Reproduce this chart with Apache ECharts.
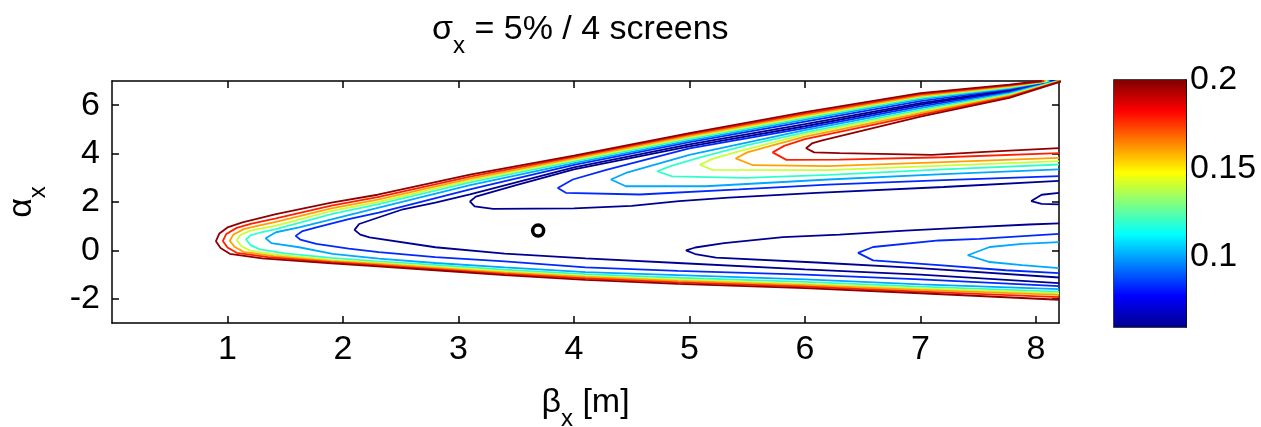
<!DOCTYPE html>
<html><head><meta charset="utf-8">
<script src="https://cdn.jsdelivr.net/npm/echarts@6/dist/echarts.min.js"></script>
<style>html,body{margin:0;padding:0;background:#fff}#c{width:1261px;height:427px}</style>
</head><body><div id="c"></div>
<script>
// ---- tick labels / ranges ----
const xTicks = [1, 2, 3, 4, 5, 6, 7, 8];
const yTicks = [-2, 0, 2, 4, 6];
const cbTicks = [0.1, 0.15, 0.2];
const cbMin = 0.06, cbMax = 0.2;
const xRange = [0, 8.2], yRange = [-3, 7];
// contour levels (low -> high) and their colours
const levels = [0.07, 0.085, 0.1, 0.12, 0.14, 0.16, 0.18, 0.2];
const levelColors = ['#000090', '#0028ff', '#00a8ff', '#30ffcc', '#c8ff38', '#ffa000', '#ff2000', '#900000'];
// optimum marker
const optimum = [[3.69, 0.82]];

// ---- outer "V" contours: top edge -> apex -> right edge ----
const ovNavy = [[8.14,7.0],[7.77,6.62],[7.0,6.09],[6.0,5.22],[5.0,4.38],[4.0,3.43],[3.1,2.32],[2.8,1.97],[2.52,1.70],[2.3,1.35],[2.14,1.09],[2.1,0.85],[2.15,0.65],[2.23,0.54],[2.8,0.13],[3.4,-0.13],[4.1,-0.33],[4.9,-0.52],[6.0,-0.78],[7.0,-1.00],[8.2,-1.35]];
const ovBlue = [[8.13,7.0],[7.77,6.66],[7.0,6.17],[6.0,5.32],[5.0,4.47],[4.0,3.53],[3.1,2.52],[2.31,1.56],[2.05,1.29],[1.77,0.95],[1.65,0.8],[1.59,0.6],[1.63,0.45],[1.77,0.27],[2.05,0.07],[2.31,-0.07],[2.8,-0.28],[3.4,-0.45],[4.1,-0.70],[4.9,-0.85],[6.0,-1.00],[7.0,-1.20],[8.2,-1.48]];
const ovAzure = [[8.12,7.0],[7.77,6.70],[7.0,6.24],[6.0,5.40],[5.0,4.54],[4.0,3.61],[3.1,2.70],[2.31,1.77],[1.91,1.29],[1.62,0.95],[1.42,0.75],[1.33,0.5],[1.38,0.3],[1.62,0.13],[1.91,-0.14],[2.31,-0.34],[2.8,-0.52],[3.4,-0.70],[4.1,-0.90],[4.9,-1.02],[6.0,-1.20],[7.0,-1.40],[8.2,-1.60]];
const ovGreen = [[8.11,7.0],[7.77,6.73],[7.0,6.30],[6.0,5.47],[5.0,4.61],[4.0,3.68],[3.1,2.81],[2.3,1.90],[1.9,1.50],[1.42,0.88],[1.3,0.76],[1.2,0.62],[1.16,0.45],[1.2,0.22],[1.28,0.04],[1.5,-0.12],[1.9,-0.31],[2.3,-0.45],[2.8,-0.60],[3.4,-0.80],[4.1,-0.98],[4.9,-1.13],[6.0,-1.30],[7.0,-1.50],[8.2,-1.70]];
const ovYellow = [[8.10,7.0],[7.77,6.76],[7.0,6.35],[6.0,5.53],[5.0,4.67],[4.0,3.74],[3.1,2.89],[2.3,2.00],[1.9,1.63],[1.42,1.02],[1.2,0.82],[1.11,0.63],[1.08,0.42],[1.12,0.18],[1.2,-0.02],[1.45,-0.19],[1.9,-0.39],[2.3,-0.51],[2.8,-0.67],[3.4,-0.86],[4.1,-1.05],[4.9,-1.20],[6.0,-1.38],[7.0,-1.57],[8.2,-1.77]];
const ovOrange = [[8.08,7.0],[7.77,6.79],[7.0,6.40],[6.0,5.59],[5.0,4.73],[4.0,3.80],[3.1,2.97],[2.3,2.10],[1.9,1.74],[1.42,1.18],[1.25,1.0],[1.14,0.88],[1.05,0.65],[1.02,0.40],[1.06,0.15],[1.14,-0.06],[1.4,-0.24],[1.9,-0.44],[2.3,-0.56],[2.8,-0.72],[3.4,-0.92],[4.1,-1.10],[4.9,-1.26],[6.0,-1.44],[7.0,-1.63],[8.2,-1.84]];
const ovRed = [[8.07,7.0],[7.77,6.82],[7.0,6.45],[6.0,5.65],[5.0,4.79],[4.0,3.86],[3.1,3.05],[2.3,2.20],[1.9,1.85],[1.42,1.32],[1.2,1.1],[1.08,0.93],[0.99,0.68],[0.96,0.39],[1.0,0.12],[1.08,-0.1],[1.35,-0.28],[1.9,-0.49],[2.3,-0.61],[2.8,-0.77],[3.4,-0.97],[4.1,-1.16],[4.9,-1.32],[6.0,-1.50],[7.0,-1.70],[8.2,-1.93]];
const ovDarkred = [[8.05,7.0],[7.77,6.85],[7.0,6.50],[6.0,5.71],[5.0,4.85],[4.0,3.92],[3.1,3.13],[2.3,2.30],[1.9,1.97],[1.42,1.50],[1.13,1.16],[1.0,0.95],[0.93,0.7],[0.90,0.38],[0.94,0.1],[1.02,-0.14],[1.3,-0.33],[1.9,-0.54],[2.3,-0.66],[2.8,-0.82],[3.4,-1.02],[4.1,-1.22],[4.9,-1.38],[6.0,-1.56],[7.0,-1.77],[8.2,-2.04]];

// ---- upper inner contours: right edge -> apex -> along the upper valley -> top edge ----
const uiNavy = [[8.2,2.87],[7.2,2.62],[6.1,2.38],[5.34,2.18],[4.91,2.04],[4.5,1.84],[4.0,1.74],[3.3,1.72],[3.14,1.82],[3.1,2.02],[3.15,2.22],[3.5,2.70],[4.0,3.35],[5.0,4.30],[6.0,5.13],[7.0,6.02],[7.77,6.58],[8.16,7.0]];
const uiBlue = [[8.2,3.07],[7.2,2.90],[6.2,2.72],[5.43,2.52],[4.57,2.31],[3.93,2.38],[3.86,2.58],[3.99,2.93],[4.28,3.33],[5.0,4.22],[6.0,5.05],[7.0,5.95],[7.77,6.54],[8.17,7.0]];
const uiAzure = [[8.2,3.35],[7.2,3.15],[6.2,2.93],[5.14,2.65],[4.45,2.65],[4.32,2.93],[4.45,3.2],[4.74,3.6],[5.0,3.95],[6.0,4.97],[7.0,5.88],[7.77,6.50],[8.18,7.0]];
const uiGreen = [[8.2,3.55],[7.2,3.35],[6.21,3.12],[5.49,3.0],[4.85,3.06],[4.72,3.27],[4.85,3.5],[5.1,3.85],[5.5,4.35],[6.0,4.88],[7.0,5.81],[7.77,6.46],[8.19,7.0]];
const uiYellow = [[8.2,3.69],[7.2,3.5],[6.2,3.32],[5.2,3.33],[5.09,3.54],[5.2,3.78],[5.45,4.12],[6.0,4.79],[7.0,5.74],[7.77,6.42],[8.2,7.0]];
const uiOrange = [[8.2,3.82],[7.2,3.65],[6.2,3.48],[5.55,3.52],[5.40,3.8],[5.5,4.05],[5.75,4.38],[6.0,4.70],[7.0,5.67],[7.77,6.38],[8.21,7.0]];
const uiRed = [[8.2,4.02],[7.2,3.85],[6.3,3.75],[5.84,3.74],[5.72,4.05],[5.82,4.32],[6.0,4.60],[7.0,5.60],[7.77,6.34],[8.22,7.0]];
const uiDarkred = [[8.2,4.23],[7.6,4.08],[7.1,3.95],[6.3,4.02],[6.08,4.05],[6.01,4.22],[6.06,4.42],[6.15,4.55],[7.0,5.53],[7.77,6.30],[8.23,7.0]];

// ---- small closed-to-the-right contours in the lower right ----
const vNavy = [[8.2,1.12],[7.94,1.07],[7.42,0.95],[6.87,0.82],[6.3,0.65],[5.81,0.55],[5.3,0.3],[5.05,0.12],[4.97,0.0],[5.05,-0.15],[5.23,-0.30],[6.1,-0.50],[6.96,-0.72],[8.2,-1.12]];
const vBlue = [[8.2,0.68],[7.51,0.48],[7.16,0.41],[6.59,0.14],[6.46,-0.1],[6.59,-0.41],[7.16,-0.61],[7.74,-0.82],[8.2,-0.94]];
const vAzure = [[8.2,0.34],[7.88,0.27],[7.6,0.14],[7.41,-0.2],[7.6,-0.48],[7.88,-0.61],[8.2,-0.73]];
const vSmallNavy = [[8.2,2.38],[8.05,2.3],[7.96,2.04],[8.05,1.92],[8.2,1.9]];

const ovLines = [ovNavy, ovBlue, ovAzure, ovGreen, ovYellow, ovOrange, ovRed, ovDarkred];
const uiLines = [uiNavy, uiBlue, uiAzure, uiGreen, uiYellow, uiOrange, uiRed, uiDarkred];
const extraLines = [[vNavy, 0], [vBlue, 1], [vAzure, 2], [vSmallNavy, 0]];

const FONT = "'Liberation Sans', Arial, sans-serif";
const FS = 34;
const richTxt = {
  b: { fontSize: FS, fontFamily: FONT, fontWeight: 'normal', color: '#000', lineHeight: 56, verticalAlign: 'middle' },
  s: { fontSize: 24, fontFamily: FONT, fontWeight: 'normal', color: '#000', lineHeight: 56, verticalAlign: 'bottom' }
};

const series = [];
function addLine(data, k) {
  series.push({
    type: 'line', data: data, xAxisIndex: 0, yAxisIndex: 0,
    showSymbol: false, symbol: 'none', smooth: false, clip: true,
    lineStyle: { color: levelColors[k], width: 1.8 },
    silent: true, z: 2 + k * 0.01
  });
}
for (let k = 0; k < levels.length; k++) { addLine(ovLines[k], k); addLine(uiLines[k], k); }
extraLines.forEach(e => addLine(e[0], e[1]));
series.push({
  type: 'scatter', data: optimum, xAxisIndex: 0, yAxisIndex: 0,
  symbol: 'circle', symbolSize: 11, silent: true,
  itemStyle: { color: '#fff', borderColor: '#000', borderWidth: 3.5, opacity: 1 }, z: 5
});
// colour bar: transparent base up to cbMin, gradient from cbMin to cbMax
series.push({ type: 'bar', xAxisIndex: 2, yAxisIndex: 2, stack: 'cb', data: [cbMin], barWidth: '100%',
  itemStyle: { color: 'rgba(0,0,0,0)' }, silent: true });
series.push({ type: 'bar', xAxisIndex: 2, yAxisIndex: 2, stack: 'cb', data: [+(cbMax - cbMin).toFixed(4)], barWidth: '100%',
  silent: true,
  itemStyle: { color: new echarts.graphic.LinearGradient(0, 1, 0, 0, [
    { offset: 0, color: '#00008f' }, { offset: 0.125, color: '#0000ff' },
    { offset: 0.375, color: '#00ffff' }, { offset: 0.625, color: '#ffff00' },
    { offset: 0.875, color: '#ff0000' }, { offset: 1, color: '#800000' }]) } });

const axLine = { show: true, onZero: false, lineStyle: { color: '#000', width: 1.5 } };
const tickStyle = { lineStyle: { color: '#000', width: 1.5 } };

const option = {
  animation: false,
  backgroundColor: '#fff',
  title: {
    text: '{b|σ}{s|x}{b| = 5% / 4 screens}',
    left: 427, top: -3,
    textStyle: { rich: richTxt, fontWeight: 'normal' }
  },
  grid: [
    { left: 112, top: 81, width: 947, height: 242, show: false, outerBoundsMode: 'none', containLabel: false },
    { left: 1114, top: 80, width: 72, height: 247, show: true, borderColor: '#000', borderWidth: 1.5, outerBoundsMode: 'none', containLabel: false }
  ],
  xAxis: [
    { type: 'value', gridIndex: 0, min: xRange[0], max: xRange[1], position: 'bottom',
      axisLine: axLine, splitLine: { show: false },
      axisTick: Object.assign({ inside: true, length: 7, customValues: xTicks }, tickStyle),
      axisLabel: { customValues: xTicks, fontSize: FS, fontFamily: FONT, color: '#000', margin: 10 },
      name: '{b|β}{s|x}{b| [m]}', nameLocation: 'middle', nameGap: 52,
      nameTextStyle: { rich: richTxt } },
    { type: 'value', gridIndex: 0, min: xRange[0], max: xRange[1], position: 'top',
      axisLine: axLine, splitLine: { show: false },
      axisTick: Object.assign({ inside: true, length: 7, customValues: xTicks }, tickStyle),
      axisLabel: { show: false } },
    { type: 'category', gridIndex: 1, data: ['cb'], show: false }
  ],
  yAxis: [
    { type: 'value', gridIndex: 0, min: yRange[0], max: yRange[1], position: 'left',
      axisLine: axLine, splitLine: { show: false },
      axisTick: Object.assign({ inside: true, length: 7, customValues: yTicks }, tickStyle),
      axisLabel: { customValues: yTicks, fontSize: FS, fontFamily: FONT, color: '#000', margin: 12 },
      name: '{b|α}{s|x}', nameLocation: 'middle', nameRotate: 90, nameGap: 62,
      nameTextStyle: { rich: richTxt } },
    { type: 'value', gridIndex: 0, min: yRange[0], max: yRange[1], position: 'right',
      axisLine: axLine, splitLine: { show: false },
      axisTick: Object.assign({ inside: true, length: 7, customValues: yTicks }, tickStyle),
      axisLabel: { show: false } },
    { type: 'value', gridIndex: 1, min: cbMin, max: cbMax, position: 'right',
      axisLine: axLine, splitLine: { show: false },
      axisTick: Object.assign({ inside: true, length: 4, customValues: cbTicks }, tickStyle),
      axisLabel: { customValues: cbTicks, fontSize: FS, fontFamily: FONT, color: '#000', margin: 4,
        formatter: v => String(+v.toFixed(2)) } }
  ],
  series: series
};
const chart = echarts.init(document.getElementById('c'), null, { renderer: 'canvas' });
chart.setOption(option);
</script></body></html>
